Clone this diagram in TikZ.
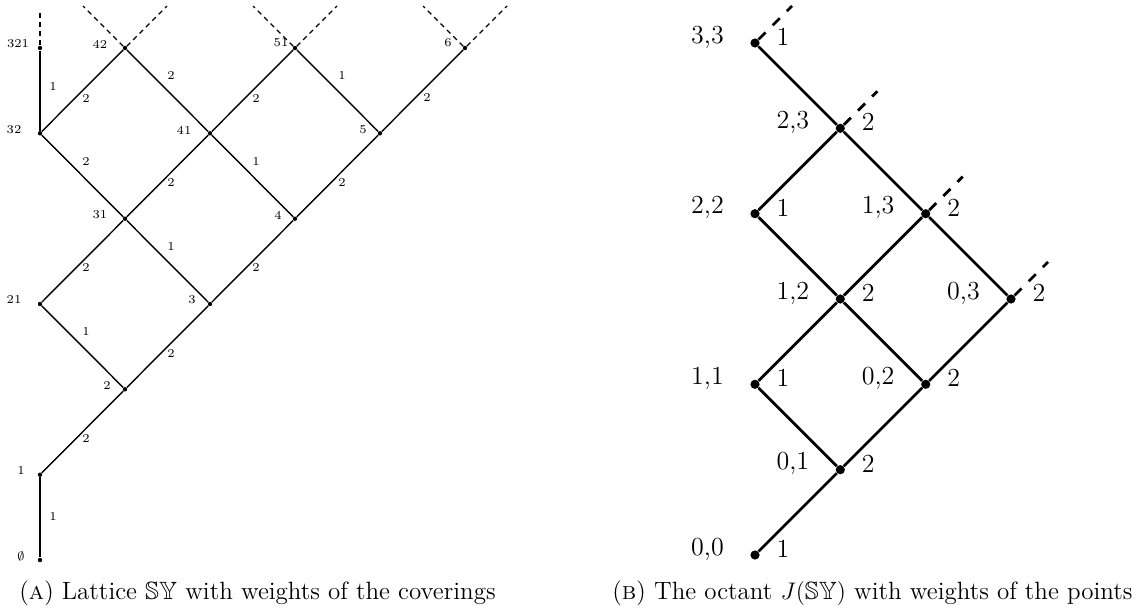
\documentclass[tikz,border=0pt]{standalone}
\usepackage{amssymb}
\begin{document}
\tikzset{
  ldot/.style={circle, fill, inner sep=0pt, minimum size=2.2pt},
  rdot/.style={circle, fill, inner sep=0pt, minimum size=4.6pt},
  lline/.style={line width=0.7pt},
  rline/.style={line width=1.4pt},
  ldash/.style={line width=0.7pt, dash pattern=on 2.5pt off 2pt},
  rdash/.style={line width=1.4pt, dash pattern=on 5pt off 5pt},
  llab/.style={font=\fontsize{6}{7}\selectfont, inner sep=0pt},
  rlab/.style={font=\fontsize{13}{15}\selectfont, inner sep=0pt},
  caplab/.style={font=\fontsize{12.5}{14}\selectfont, inner sep=0pt, anchor=base west}
}
\begin{tikzpicture}[x=0.5pt,y=-0.5pt]
\useasboundingbox (0,0) rectangle (1141,611);
% ---------- left lattice ----------
\node[ldot] (e)   at (40,560) {};
\node[ldot] (n1)  at (40,474.7) {};
\node[ldot] (n2)  at (125,389.3) {};
\node[ldot] (n21) at (40,304) {};
\node[ldot] (n3)  at (210,304) {};
\node[ldot] (n31) at (125,218.7) {};
\node[ldot] (n4)  at (295,218.7) {};
\node[ldot] (n32) at (40,133.3) {};
\node[ldot] (n41) at (210,133.3) {};
\node[ldot] (n5)  at (380,133.3) {};
\node[ldot] (n321) at (40,48) {};
\node[ldot] (n42) at (125,48) {};
\node[ldot] (n51) at (295,48) {};
\node[ldot] (n6)  at (465,48) {};
% node labels
\node[llab] (le)   at (21,556) {$\emptyset$};
\node[llab] (l1)   at (21,471) {1};
\node[llab] (l2)   at (107,386) {2};
\node[llab] (l21)  at (14,300) {21};
\node[llab] (l3)   at (192,300) {3};
\node[llab] (l31)  at (100,215) {31};
\node[llab] (l4)   at (278,215) {4};
\node[llab] (l32)  at (14,130) {32};
\node[llab] (l41)  at (184,130) {41};
\node[llab] (l5)   at (363,130) {5};
\node[llab] (l321) at (18,44) {321};
\node[llab] (l42)  at (100,44) {42};
\node[llab] (l51)  at (281,43) {51};
\node[llab] (l6)   at (448,43) {6};
% edges
\draw[lline] (e) -- (n1);
\draw[lline] (n1) -- (n2);
\draw[lline] (n21) -- (n2);
\draw[lline] (n2) -- (n3);
\draw[lline] (n21) -- (n31);
\draw[lline] (n31) -- (n3);
\draw[lline] (n3) -- (n4);
\draw[lline] (n32) -- (n31);
\draw[lline] (n31) -- (n41);
\draw[lline] (n41) -- (n4);
\draw[lline] (n4) -- (n5);
\draw[lline] (n321) -- (n32);
\draw[lline] (n32) -- (n42);
\draw[lline] (n42) -- (n41);
\draw[lline] (n41) -- (n51);
\draw[lline] (n51) -- (n5);
\draw[lline] (n5) -- (n6);
% edge weights
\node[llab] (w1)  at (53,517) {1};
\node[llab] (w2)  at (86,439) {2};
\node[llab] (w3)  at (86,332) {1};
\node[llab] (w4)  at (171,354) {2};
\node[llab] (w5)  at (86,268) {2};
\node[llab] (w6)  at (171,247) {1};
\node[llab] (w7)  at (256,268) {2};
\node[llab] (w8)  at (86,162) {2};
\node[llab] (w9)  at (171,183) {2};
\node[llab] (w10) at (256,162) {1};
\node[llab] (w11) at (342,183) {2};
\node[llab] (w12) at (53,87) {1};
\node[llab] (w13) at (86,99) {2};
\node[llab] (w14) at (171,76) {2};
\node[llab] (w15) at (256,99) {2};
\node[llab] (w16) at (342,76) {1};
\node[llab] (w17) at (427,98) {2};
% dashed continuations
\coordinate (t321) at (40,10);
\coordinate (t42a) at (83,6);
\coordinate (t42b) at (167,6);
\coordinate (t51a) at (253,6);
\coordinate (t51b) at (337,6);
\coordinate (t6a)  at (423,6);
\coordinate (t6b)  at (507,6);
\draw[ldash] (n321) -- (t321);
\draw[ldash] (n42) -- (t42a);
\draw[ldash] (n42) -- (t42b);
\draw[ldash] (n51) -- (t51a);
\draw[ldash] (n51) -- (t51b);
\draw[ldash] (n6) -- (t6a);
\draw[ldash] (n6) -- (t6b);
% ---------- right octant ----------
\node[rdot] (r00) at (755,555) {};
\node[rdot] (r01) at (840.3,469.7) {};
\node[rdot] (r11) at (755,384.3) {};
\node[rdot] (r02) at (925.7,384.3) {};
\node[rdot] (r12) at (840.3,299) {};
\node[rdot] (r22) at (755,213.7) {};
\node[rdot] (r03) at (1011,299) {};
\node[rdot] (r13) at (925.7,213.7) {};
\node[rdot] (r23) at (840.3,128.3) {};
\node[rdot] (r33) at (755,43) {};
\draw[rline] (r00) -- (r01);
\draw[rline] (r01) -- (r11);
\draw[rline] (r01) -- (r02);
\draw[rline] (r11) -- (r12);
\draw[rline] (r02) -- (r12);
\draw[rline] (r02) -- (r03);
\draw[rline] (r12) -- (r22);
\draw[rline] (r12) -- (r13);
\draw[rline] (r03) -- (r13);
\draw[rline] (r22) -- (r23);
\draw[rline] (r13) -- (r23);
\draw[rline] (r23) -- (r33);
\foreach \n/\c/\w in {00/{0,0}/1, 01/{0,1}/2, 11/{1,1}/1, 02/{0,2}/2, 12/{1,2}/2,
                      22/{2,2}/1, 03/{0,3}/2, 13/{1,3}/2, 23/{2,3}/2, 33/{3,3}/1} {
  \path (r\n) ++(-47.5,-6) node[rlab] (c\n) {\c};
  \path (r\n) ++(28,-6) node[rlab] (v\n) {\w};
}
\foreach \n in {03,13,23,33} {
  \path (r\n) ++(37,-37) coordinate (d\n);
  \draw[rdash] (r\n) -- (d\n);
}
% ---------- captions ----------
\node[caplab] (capA) at (19,599) {(\textsc{a}) Lattice $\mathbb{SY}$ with weights of the coverings};
\node[caplab] (capB) at (612,599) {(\textsc{b}) The octant $J(\mathbb{SY})$ with weights of the points};
\end{tikzpicture}
\end{document}
